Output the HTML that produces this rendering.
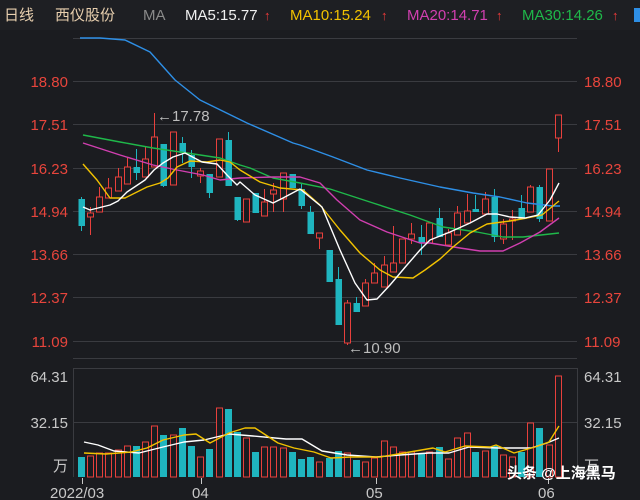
<!DOCTYPE html>
<html><head><meta charset="utf-8"><style>
html,body{margin:0;padding:0;background:#1b1c20;}
body{width:640px;height:500px;overflow:hidden;position:relative;font-family:"Liberation Sans","Noto Sans CJK SC",sans-serif;}
svg{position:absolute;left:0;top:0;}
</style></head><body>
<svg id="s" width="640" height="500" xmlns="http://www.w3.org/2000/svg" font-family="Liberation Sans, Noto Sans CJK SC, sans-serif">
<rect x="0" y="0" width="640" height="30" fill="#1e1f23"/>
<g font-size="15">
<text x="4" y="20" fill="#e8cfae">日线</text>
<text x="55" y="20" fill="#e8cfae">西仪股份</text>
<text x="143" y="20" fill="#8a8a8a">MA</text>
<text x="185" y="20" fill="#f0f0f0">MA5:15.77</text><text x="264" y="20" fill="#f03a3a" font-size="13">↑</text>
<text x="290" y="20" fill="#f2c200">MA10:15.24</text><text x="381" y="20" fill="#f03a3a" font-size="13">↑</text>
<text x="407" y="20" fill="#d13fb0">MA20:14.71</text><text x="496" y="20" fill="#f03a3a" font-size="13">↑</text>
<text x="522" y="20" fill="#1fb84a">MA30:14.26</text><text x="612" y="20" fill="#f03a3a" font-size="13">↑</text>
<rect x="634" y="8" width="6" height="14" fill="#2e8fe6"/>
</g>
<g stroke="#3a3b40" stroke-width="1">
<line x1="73" y1="38.5" x2="577" y2="38.5"/>
<line x1="73" y1="81.5" x2="577" y2="81.5"/>
<line x1="73" y1="124.5" x2="577" y2="124.5"/>
<line x1="73" y1="168.5" x2="577" y2="168.5"/>
<line x1="73" y1="211.5" x2="577" y2="211.5"/>
<line x1="73" y1="254.5" x2="577" y2="254.5"/>
<line x1="73" y1="297.5" x2="577" y2="297.5"/>
<line x1="73" y1="341.5" x2="577" y2="341.5"/>
<line x1="73" y1="358.5" x2="577" y2="358.5"/>
<line x1="73" y1="368.5" x2="577" y2="368.5"/>
<line x1="73" y1="422.5" x2="577" y2="422.5"/>
<line x1="73.5" y1="368" x2="73.5" y2="477"/>
<line x1="577.5" y1="368" x2="577.5" y2="477"/>
</g>
<g font-size="15" fill="#e8453c">
<text x="68" y="87" text-anchor="end">18.80</text>
<text x="68" y="130" text-anchor="end">17.51</text>
<text x="68" y="174" text-anchor="end">16.23</text>
<text x="68" y="217" text-anchor="end">14.94</text>
<text x="68" y="260" text-anchor="end">13.66</text>
<text x="68" y="303" text-anchor="end">12.37</text>
<text x="68" y="347" text-anchor="end">11.09</text>
<text x="584" y="87">18.80</text>
<text x="584" y="130">17.51</text>
<text x="584" y="174">16.23</text>
<text x="584" y="217">14.94</text>
<text x="584" y="260">13.66</text>
<text x="584" y="303">12.37</text>
<text x="584" y="347">11.09</text>
</g>
<g font-size="15" fill="#c8c8c8">
<text x="68" y="382" text-anchor="end">64.31</text>
<text x="68" y="428" text-anchor="end">32.15</text>
<text x="68" y="471" text-anchor="end">万</text>
<text x="584" y="382">64.31</text>
<text x="584" y="428">32.15</text>
<text x="584" y="471">万</text>
<text x="50" y="498">2022/03</text>
<text x="192" y="498">04</text>
<text x="366" y="498">05</text>
<text x="538" y="498">06</text>
</g>
<g stroke="#c8c8c8"><line x1="82.5" y1="478" x2="82.5" y2="484"/><line x1="201.5" y1="478" x2="201.5" y2="484"/><line x1="376.5" y1="478" x2="376.5" y2="484"/><line x1="548.5" y1="478" x2="548.5" y2="484"/></g>
<g id="c"></g>
<g fill="none" stroke-width="1.4" stroke-linejoin="round">
<polyline stroke="#2e8fe6" points="80,38 100,38 125,40 150,52 175,80 200,100 247,123 293,143 300,145 333,157 367,170 400,178 440,187 473,193 500,197 527,203 553,206 560,206"/>
<polyline stroke="#1fb84a" points="83,135 120,142 153,148 187,153 220,158 240,165 250,168 273,178 300,183 330,189 373,203 410,215 443,227 477,232 503,237 523,237 559,233"/>
<polyline stroke="#d13fb0" points="83,143 120,155 153,165 177,170 203,175 220,180 240,178 273,177 300,177 320,183 337,200 360,220 387,232 420,243 430,243 460,248 480,251 503,251 520,243 540,232 559,218"/>
<polyline stroke="#f2c200" points="83,164 97,180 110,198 125,198 147,187 160,183 168,178 177,167 190,161 207,162 220,160 230,162 240,170 260,182 280,188 303,190 320,205 340,230 360,253 380,270 393,277 413,278 425,270 440,259 453,247 470,233 487,224 510,221 527,218 542,215 559,201"/>
<polyline stroke="#ffffff" points="83,207 90,210 110,205 118,201 127,192 145,180 154,170 163,163 173,157 185,153 202,162 217,164 227,175 237,185 240,182 255,195 273,203 283,198 300,189 322,207 340,250 355,283 367,300 377,299 390,285 407,265 420,250 430,240 450,232 470,223 487,214 497,214 510,217 525,218 538,215 550,200 559,183"/>
<polyline stroke="#ffffff" points="84,442 98,445 114,451 139,453 163,447 184,442 204,440 229,434 253,436 286,439 302,439 322,451 347,455 376,457 400,455 429,453 449,453 469,447 498,448 531,448 547,443 559,438"/>
<polyline stroke="#f2c200" points="84,453 106,454 131,452 147,448 163,440 184,435 196,434 210,443 229,433 245,428 255,428 278,443 294,448 314,452 331,458 351,457 380,457 404,453 433,448 445,452 465,446 490,447 496,445 514,453 535,447 549,442 559,426"/>
</g>
<g font-size="15" fill="#bdbdbd">
<text x="157" y="121">←17.78</text>
<text x="348" y="353">←10.90</text>
</g>
<text x="507" y="478" font-size="15" font-weight="bold" fill="#ffffff">头条 @上海黑马</text>
</svg>
<script>
var C=[[81,199,226,197,231,0],[90,213,217,207,235,1],[99,197,212,187,212,1],[108,188,198,178,198,1],[118,177,191,168,191,1],[127,167,184,157,184,1],[136,167,173,149,180,0],[145,159,177,147,177,1],[154,137,167,113,167,1],[163,144,186,144,187,0],[173,132,185,132,185,1],[182,143,153,137,163,0],[191,155,167,150,178,0],[200,171,176,168,183,1],[209,174,193,174,198,0],[219,139,177,139,177,1],[228,140,186,132,186,0],[237,197,220,197,221,0],[246,199,222,199,222,1],[255,193,213,193,213,0],[264,202,216,189,216,1],[273,190,194,183,212,1],[283,173,199,173,212,1],[292,174,188,174,188,0],[301,189,206,183,209,0],[310,212,234,206,234,0],[319,233,238,233,249,1],[329,250,282,250,282,0],[338,279,325,267,325,0],[347,303,343,300,345,1],[356,303,312,297,312,0],[365,283,306,279,306,1],[374,273,283,263,283,1],[384,265,287,256,287,1],[393,263,272,226,272,1],[402,239,263,239,263,1],[411,234,239,223,244,1],[421,237,243,225,255,0],[429,223,243,223,243,1],[439,218,237,208,237,0],[448,233,245,229,245,1],[457,213,235,206,235,1],[467,211,223,194,223,1],[475,209,212,195,212,0],[485,199,214,192,214,1],[494,197,237,189,242,0],[503,224,239,219,244,1],[512,219,221,210,240,1],[521,208,219,195,219,0],[530,187,212,185,212,1],[539,187,219,185,222,0],[549,169,221,169,221,1],[558,115,138,115,152,1]];
var V=[457,456,453,453,450,446,446,442,426,435,435,428,446,457,449,408,409,432,438,452,447,447,448,452,459,457,462,458,451,453,460,462,458,441,447,452,452,453,452,447,459,438,433,452,451,446,455,457,452,423,428,445,376];
var g=document.getElementById('c'),h='';
for(var i=0;i<C.length;i++){var c=C[i],x=c[0],col=c[5]?'#e8403c':'#1fb5bf';
h+='<line x1="'+(x+0.5)+'" y1="'+c[3]+'" x2="'+(x+0.5)+'" y2="'+c[4]+'" stroke="'+col+'" stroke-width="1"/>';
var bh=Math.max(c[2]-c[1],2);
if(c[5])h+='<rect x="'+(x-2.5)+'" y="'+c[1]+'" width="6" height="'+bh+'" fill="#1b1c20" stroke="'+col+'" stroke-width="1"/>';
else h+='<rect x="'+(x-2.5)+'" y="'+c[1]+'" width="6.5" height="'+bh+'" fill="'+col+'"/>';
var v=V[i];
if(c[5])h+='<rect x="'+(x-2.5)+'" y="'+v+'" width="6" height="'+(477-v)+'" fill="#1b1c20" stroke="'+col+'" stroke-width="1"/>';
else h+='<rect x="'+(x-3)+'" y="'+v+'" width="7" height="'+(477-v)+'" fill="'+col+'"/>';}
g.innerHTML=h;
</script>
</body></html>
